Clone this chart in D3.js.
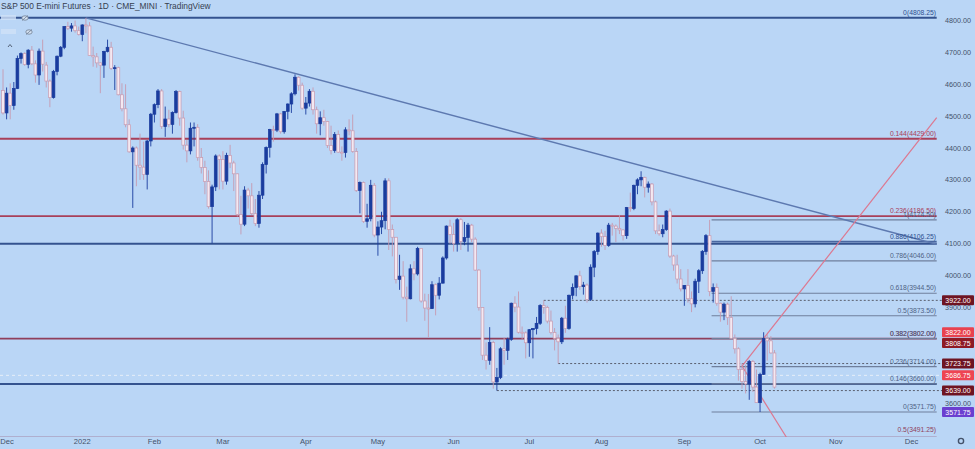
<!DOCTYPE html>
<html><head><meta charset="utf-8">
<script src="https://cdn.jsdelivr.net/npm/d3@7"></script>
<style>
html,body{margin:0;padding:0;background:#bad6f6;overflow:hidden;}
svg{display:block;font-family:"Liberation Sans",Arial,sans-serif;}
</style></head><body>
<svg id="chart" width="975" height="449"></svg>
<script>
// ---------------- DATA ----------------
const holidays = ["2021-12-24","2022-01-17","2022-02-21","2022-04-15","2022-05-30","2022-06-20","2022-07-04","2022-09-05","2022-11-24","2022-12-26"];
const opens = [4580,4510,4572,4533,4587,4681,4696,4662,4707,4664,4629,4704,4660,4610,4558,4640,4688,4716,4781,4776,4783,4768,
4756,4786,4783,4690,4686,4667,4660,4703,4716,4650,4652,4567,4523,4473,4388,4400,4346,4340,4317,4422,
4506,4536,4579,4467,4491,4474,4511,4577,4494,4409,4391,4462,4465,4370,4339,4295,4216,4278,4375,
4364,4296,4377,4353,4319,4191,4161,4268,4250,4194,4163,4252,4348,4402,4458,4456,4507,4451,4515,4538,4570,4622,4597,
4525,4541,4578,4520,4476,4495,4483,4408,4392,4442,4387,4386,4457,4454,4389,4267,4292,4170,4178,4283,
4127,4152,4172,4297,4144,4120,3988,3998,3932,3927,4021,4005,4085,3920,3898,3896,3971,3938,3976,4055,4155,
4129,4101,4175,4107,4119,4158,4114,4017,3900,3750,3734,3790,3666,3680,3770,3765,3800,3913,3901,3822,3820,
3789,3830,3834,3850,3906,3900,3857,3821,3803,3792,3866,3834,3938,3962,3999,3965,3970,3925,4026,4075,
4133,4122,4094,4158,4155,4148,4143,4125,4213,4210,4283,4300,4308,4277,4287,4231,4140,4131,4144,4202,4061,4033,3989,
3958,3969,3927,3911,3982,4015,4075,4125,3950,3962,3913,3885,3910,3868,3803,3770,3705,3667,3660,3730,3650,
3601,3690,3802,3795,3757];
const highs = [4647,4590,4603,4607,4690,4700,4700,4710,4720,4675,4712,4740,4670,4615,4645,4690,4720,4782,4796,4792,4800,4781,
4788,4808.25,4795,4718,4698,4668,4705,4740,4733,4660,4655,4603,4600,4490,4405,4405,4445,4420,4425,4510,
4540,4585,4585,4530,4520,4515,4582,4580,4517,4425,4480,4480,4475,4400,4360,4330,4285,4380,4380,
4390,4385,4410,4360,4320,4250,4280,4275,4290,4240,4265,4355,4405,4460,4470,4510,4510,4515,4540,4575,4631,4625,4605,
4560,4585,4590,4530,4515,4520,4485,4470,4450,4455,4405,4465,4490,4505,4400,4295,4295,4225,4300,4290,
4170,4200,4305,4305,4160,4120,4065,4045,3965,4035,4045,4090,4085,3943,3942,3982,3975,3995,4060,4157,4175,
4165,4180,4180,4168,4165,4162,4120,4020,3900,3790,3838,3795,3710,3775,3805,3805,3915,3935,3950,3840,3825,
3832,3835,3870,3910,3922,3905,3890,3835,3815,3870,3905,3940,3975,4000,4015,3980,3975,4035,4080,4135,
4145,4140,4165,4165,4160,4190,4145,4215,4260,4285,4305,4327,4310,4295,4290,4235,4160,4160,4205,4210,4065,4065,4020,
3970,4020,3950,3990,4020,4080,4130,4174.5,3975,3975,3915,3915,3915,3935,3815,3775,3725,3720,3735,3735,3705,
3695,3822,3815,3810,3766];
const lows = [4505,4490,4490,4520,4585,4665,4658,4650,4660,4605,4598,4640,4590,4528,4555,4628,4685,4710,4770,4765,4762,4753,
4735,4760,4690,4655,4652,4572,4620,4700,4645,4582,4565,4515,4465,4385,4212,4280,4300,4300,4270,4405,
4480,4525,4460,4435,4465,4445,4508,4470,4395,4355,4380,4405,4360,4320,4255,4210,4101,4265,4270,
4270,4285,4337,4265,4185,4129,4155,4210,4190,4155,4150,4240,4320,4370,4420,4450,4445,4445,4490,4510,4565,4580,4520,
4505,4530,4505,4445,4440,4470,4400,4380,4385,4385,4360,4370,4440,4385,4262,4195,4165,4150,4170,4120,
4062,4130,4145,4080,4060,3975,3955,3925,3855,3925,3985,4000,3915,3858,3807,3895,3875,3925,3975,4050,4100,
4075,4075,4080,4095,4075,4105,4015,3890,3735,3705,3720,3645,3639,3675,3720,3735,3795,3885,3818,3800,3740,
3745,3740,3815,3845,3880,3850,3815,3765,3723.75,3785,3820,3830,3925,3935,3955,3940,3915,3920,3995,4065,
4090,4080,4090,4125,4105,4130,4110,4115,4200,4205,4255,4280,4245,4260,4220,4130,4125,4120,4140,4055,4015,3975,3950,
3905,3915,3885,3900,3945,4005,4065,3935,3915,3905,3855,3860,3845,3800,3755,3670,3645,3630,3610,3635,3600,
3571.75,3688,3733,3755,3645];
const closes = [4510,4572,4533,4587,4681,4696,4662,4707,4664,4629,4704,4663,4610,4558,4640,4688,4716,4781,4776,4783,4768,4756,
4786,4783,4690,4686,4667,4660,4703,4716,4650,4652,4567,4523,4473,4388,4400,4346,4340,4317,4422,4506,
4536,4579,4467,4491,4474,4511,4577,4494,4409,4391,4462,4465,4370,4339,4295,4216,4278,4375,4364,
4296,4377,4353,4319,4191,4161,4268,4250,4194,4163,4252,4348,4402,4458,4456,4507,4451,4515,4538,4570,4622,4597,4525,
4541,4578,4520,4476,4495,4483,4408,4392,4442,4387,4386,4457,4454,4389,4267,4292,4170,4178,4283,4127,
4152,4172,4297,4144,4120,3988,3998,3932,3927,4021,4005,4085,3920,3898,3896,3971,3938,3976,4055,4155,4129,
4101,4175,4107,4119,4158,4114,4017,3900,3750,3734,3790,3666,3680,3770,3765,3800,3913,3901,3822,3820,3789,
3830,3834,3850,3906,3900,3857,3821,3803,3792,3866,3834,3938,3962,3999,3965,3970,3925,4026,4075,4133,
4122,4094,4158,4155,4148,4143,4125,4213,4210,4283,4300,4308,4277,4287,4231,4140,4131,4144,4202,4061,4033,3989,3958,
3969,3927,3911,3982,4015,4075,4125,3950,3962,3913,3885,3910,3868,3803,3770,3705,3667,3660,3730,3650,3601,
3690,3802,3795,3757,3650];

const monthLabels = ["Dec","2022","Feb","Mar","Apr","May","Jun","Jul","Aug","Sep","Oct","Nov","Dec"];
const priceTicks = [4800,4700,4600,4500,4400,4300,4200,4100,4000,3900,3800,3700,3600];

// long-term fibonacci (2020 low -> Jan 2022 high)
const longFibRatios = ["0","0.144","0.236","0.382","0.5"];
const longFibPrices = [4808.25,4429.00,4186.50,3802.00,3491.25];
// short fibonacci (Sep high -> Oct low)
const shortFibRatios = ["1","0.886","0.786","0.618","0.5","0.382","0.236","0.146","0"];
const shortFibPrices = [4174.50,4106.25,4046.00,3944.50,3873.50,3802.00,3714.00,3660.00,3571.75];
const shortFibStart = "2022-09-13", rightEnd = "2022-12-12";

const blueLevels = [4808.25,4100,3660];
const dottedLevels = [3922.00,3723.75,3639.00];
const dottedStarts = ["2022-07-08","2022-07-14","2022-06-17"];
const dashedLevels = [3686.75];

const trendBlue = [["2022-01-04",4808.25],["2022-12-12",4098]];
const trendUp = [["2022-09-26",3716],["2022-12-12",4495]];
const trendDown = [["2022-09-26",3716],["2022-10-13",3480]];

const boxValues = [3922.00,3822.00,3808.75,3723.75,3686.75,3639.00,3571.75];

// ---------------- STYLES ----------------
const boxColors = ["#6e1422","#e8424f","#8e1a24","#6e1422","#ee4452","#6e1422","#6b3fd0"];
const longFibColors = ["#2e4f8f","#a8405a","#a8405a","#8f3f5c","#8f3f5c"];
const W = 975, H = 449, plotR = 943, plotB = 437;

// ---------------- BUILD ----------------
const days = [];
{
  let t = Date.UTC(2021,11,1);
  const end = Date.UTC(2022,11,31);
  while (t <= end) {
    const d = new Date(t), wd = d.getUTCDay(), s = d.toISOString().slice(0,10);
    if (wd !== 0 && wd !== 6 && !holidays.includes(s)) days.push(s);
    t += 86400000;
  }
}
const idx = new Map(days.map((d,i)=>[d,i]));

const x = d3.scaleLinear().domain([0,253]).range([3, 3+253*3.605]);
const y = d3.scaleLinear().domain([3600,4800]).range([403,20.5]);

const svg = d3.select("#chart");
svg.append("rect").attr("width",W).attr("height",H).attr("fill","#bad6f6");
svg.append("defs").append("clipPath").attr("id","plot")
  .append("rect").attr("x",0).attr("y",0).attr("width",plotR).attr("height",plotB);
const g = svg.append("g").attr("clip-path","url(#plot)");

const xr = x(idx.get(rightEnd));

// full width blue lines
g.selectAll(".bl").data(blueLevels).join("line")
  .attr("x1",0).attr("x2",xr).attr("y1",d=>y(d)).attr("y2",d=>y(d))
  .attr("stroke","#34538f").attr("stroke-width",2);

// long fib lines (extended left)
g.selectAll(".lf").data(longFibPrices.slice(1)).join("line")
  .attr("x1",0).attr("x2",xr).attr("y1",d=>y(d)).attr("y2",d=>y(d))
  .attr("stroke",(d,i)=>longFibColors[i+1]).attr("stroke-width",1.8);

// dashed light line
g.selectAll(".dl").data(dashedLevels).join("line")
  .attr("x1",0).attr("x2",plotR).attr("y1",d=>y(d)).attr("y2",d=>y(d))
  .attr("stroke","#e6eef8").attr("stroke-width",1).attr("stroke-dasharray","3,3");

// dotted dark lines
g.selectAll(".dt").data(dottedLevels).join("line")
  .attr("x1",(d,i)=>x(idx.get(dottedStarts[i]))).attr("x2",plotR)
  .attr("y1",d=>y(d)).attr("y2",d=>y(d))
  .attr("stroke","#5a5f6e").attr("stroke-width",1).attr("stroke-dasharray","2,2");

// short fib lines
const xs = x(idx.get(shortFibStart)) + 2;
g.selectAll(".sf").data(shortFibPrices).join("line")
  .attr("x1",xs).attr("x2",xr).attr("y1",d=>y(d)).attr("y2",d=>y(d))
  .attr("stroke",(d,i)=> i===1 ? "#4a67a0" : "#6f7f9c").attr("stroke-width",(d,i)=> i===1?1.6:1.1);

// trendlines
const tl = (pts,color,w) => g.append("line")
  .attr("x1",x(idx.get(pts[0][0]))).attr("y1",y(pts[0][1]))
  .attr("x2",x(idx.get(pts[1][0]))).attr("y2",y(pts[1][1]))
  .attr("stroke",color).attr("stroke-width",w);
tl(trendBlue,"#5d79b0",1.4);
tl(trendUp,"#dc7890",1.2);
tl(trendDown,"#dc7890",1.2);

// candles
const candles = closes.map((c,i)=>({i, o:opens[i], h:highs[i], l:lows[i], c}));
const bw = 2.8;
const cg = g.append("g");
cg.selectAll(".wick").data(candles).join("line")
  .attr("x1",d=>x(d.i)).attr("x2",d=>x(d.i))
  .attr("y1",d=>y(d.h)).attr("y2",d=>y(d.l))
  .attr("stroke",d=>d.c>=d.o?"#1a3c9e":"#c69ab0").attr("stroke-width",0.9);
cg.selectAll(".body").data(candles).join("rect")
  .attr("x",d=>x(d.i)-bw/2)
  .attr("y",d=>y(Math.max(d.o,d.c)))
  .attr("width",bw)
  .attr("height",d=>Math.max(1,Math.abs(y(d.o)-y(d.c))))
  .attr("fill",d=>d.c>=d.o?"#1a3c9e":"#f4e8f1")
  .attr("stroke",d=>d.c>=d.o?"#1a3c9e":"#c69ab0").attr("stroke-width",0.7);

// fib labels
const lblX = 936;
svg.selectAll(".lfl").data(longFibPrices).join("text")
  .attr("x",lblX).attr("y",d=>Math.min(y(d)-3, 432))
  .attr("text-anchor","end").attr("font-size",6.8)
  .attr("fill",(d,i)=>longFibColors[i])
  .text((d,i)=>`${longFibRatios[i]}(${d.toFixed(2)})`);
svg.selectAll(".sfl").data(shortFibPrices).join("text")
  .attr("x",lblX).attr("y",d=>y(d)-3)
  .attr("text-anchor","end").attr("font-size",6.8)
  .attr("fill",(d,i)=> i===1 ? "#2e4f8f" : "#4f6284")
  .text((d,i)=>`${shortFibRatios[i]}(${d.toFixed(2)})`);

// price axis boxes (resolve overlaps)
const boxes = boxValues.map((v,i)=>({v, c:boxColors[i], y:y(v)})).sort((a,b)=>a.y-b.y);
for (let k=1;k<boxes.length;k++) if (boxes[k].y < boxes[k-1].y+10.8) boxes[k].y = boxes[k-1].y+10.8;

// tick labels
svg.selectAll(".tick").data(priceTicks.filter(p=>!boxes.some(b=>Math.abs(b.y-y(p))<6))).join("text")
  .attr("x",958).attr("y",d=>y(d)+2.6).attr("text-anchor","middle")
  .attr("font-size",7.2).attr("fill","#44526a").text(d=>d.toFixed(2));

const bg = svg.selectAll(".box").data(boxes).join("g");
bg.append("rect").attr("x",942).attr("y",d=>d.y-5).attr("width",32).attr("height",10)
  .attr("rx",1).attr("fill",d=>d.c);
bg.append("text").attr("x",958).attr("y",d=>d.y+2.6).attr("text-anchor","middle")
  .attr("font-size",7).attr("fill","#ffffff").text(d=>d.v.toFixed(2));

// time axis
const monthStarts = [];
days.forEach((d,i)=>{ const m=d.slice(0,7); if(!monthStarts.length || monthStarts[monthStarts.length-1].m!==m) monthStarts.push({m,i}); });
svg.selectAll(".mt").data(monthStarts.slice(0,monthLabels.length)).join("text")
  .attr("x",d=>Math.max(x(d.i),7)).attr("y",444).attr("text-anchor","middle")
  .attr("font-size",7.6).attr("fill","#44526a").text((d,i)=>monthLabels[i]);

// gear icon
svg.append("circle").attr("cx",961).attr("cy",441).attr("r",2.6)
  .attr("fill","none").attr("stroke","#44526a").attr("stroke-width",1.4);

// title & legend
svg.append("text").attr("x",1).attr("y",8.5).attr("font-size",8.4).attr("fill","#36404f")
  .text("S&P 500 E-mini Futures · 1D · CME_MINI · TradingView");
[[18,25],[32,29]].forEach(([yy,xx])=>{
  svg.append("rect").attr("x",1).attr("y",yy-3).attr("width",15).attr("height",5).attr("fill","#cfe1f7").attr("opacity",0.8);
  svg.append("ellipse").attr("cx",xx).attr("cy",yy).attr("rx",3.2).attr("ry",2.2)
    .attr("fill","#d6e4f5").attr("stroke","#6f7d92").attr("stroke-width",0.8);
  svg.append("line").attr("x1",xx-3).attr("y1",yy+2.5).attr("x2",xx+3).attr("y2",yy-2.5)
    .attr("stroke","#6f7d92").attr("stroke-width",0.8);
});
svg.append("path").attr("d","M8,47 L10,44.5 L12,47").attr("fill","none")
  .attr("stroke","#4a566a").attr("stroke-width",0.9);
</script>
</body></html>
